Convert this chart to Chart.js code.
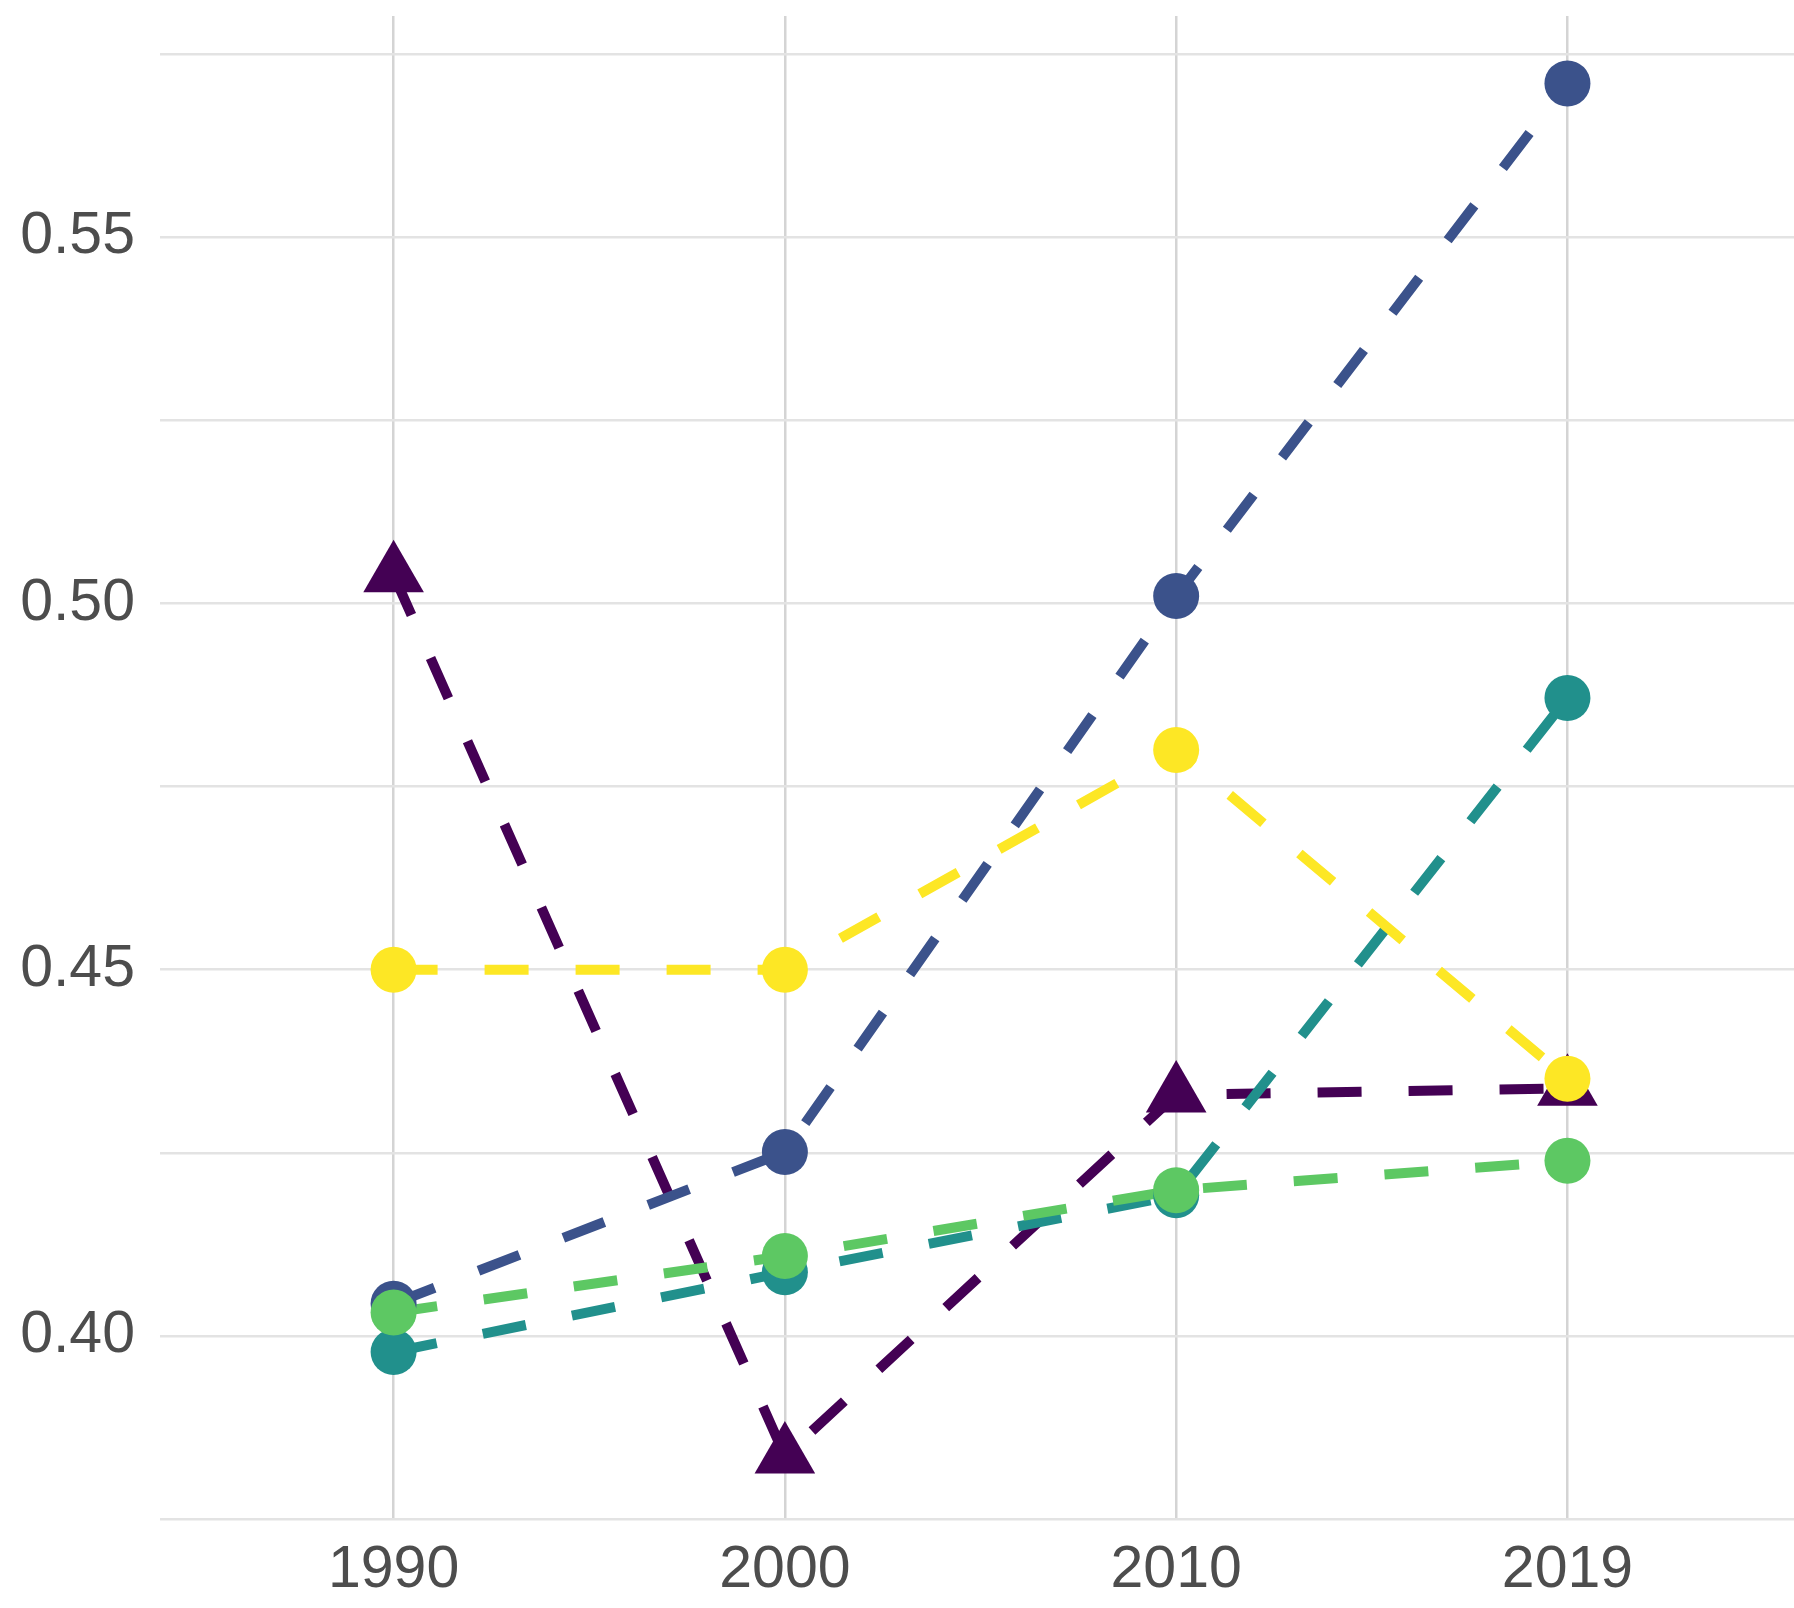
<!DOCTYPE html>
<html>
<head>
<meta charset="utf-8">
<title>Chart</title>
<script src="https://cdn.jsdelivr.net/npm/chart.js@4/dist/chart.umd.min.js"></script>
<style>
  html, body { margin: 0; padding: 0; background: #fff; }
  #chart { display: block; }
</style>
</head>
<body>
<canvas id="chart" width="1794" height="1608"></canvas>
<script>
// x categories (drawn on a linear index scale so the outer padding matches)
const years = ['1990', '2000', '2010', '2019'];

// series values
const purpleVals = [0.5039, 0.3836, 0.4329, 0.4338];
const blueVals   = [0.4044, 0.4251, 0.5010, 0.5710];
const tealVals   = [0.3978, 0.4087, 0.4192, 0.4871];
const greenVals  = [0.4032, 0.4109, 0.4199, 0.4239];
const yellowVals = [0.4500, 0.4500, 0.4800, 0.4351];

// y ticks (grid every 0.025, labels every 0.05)
const yTickValues = [0.375, 0.400, 0.425, 0.450, 0.475, 0.500, 0.525, 0.550, 0.575];
const yTickLabels = ['', '0.40', '', '0.45', '', '0.50', '', '0.55', ''];

const series = [
  { name: 'purple', values: purpleVals, color: '#440154', shape: 'triangle', radius: 35 },
  { name: 'blue',   values: blueVals,   color: '#3b528b', shape: 'circle',   radius: 23 },
  { name: 'teal',   values: tealVals,   color: '#21908c', shape: 'circle',   radius: 23 },
  { name: 'green',  values: greenVals,  color: '#5dc863', shape: 'circle',   radius: 23 },
  { name: 'yellow', values: yellowVals, color: '#fde725', shape: 'circle',   radius: 23 }
];

const toPoints = vals => vals.map((v, i) => ({ x: i, y: v }));

// lines first (all of them), then points on top, like the original layering
const lineSets = series.map((s, i) => ({
  label: s.name + ' line',
  data: toPoints(s.values),
  borderColor: s.color,
  borderWidth: 10,
  borderDash: [44, 47],
  borderCapStyle: 'butt',
  pointRadius: 0,
  tension: 0,
  fill: false,
  order: 20 - i
}));

const pointSets = series.map((s, i) => ({
  label: s.name,
  data: toPoints(s.values),
  showLine: false,
  pointStyle: s.shape,
  pointRadius: s.radius,
  pointBackgroundColor: s.color,
  pointBorderColor: s.color,
  pointBorderWidth: 0,
  order: 10 - i
}));

const tickFont = { family: "'Liberation Sans', Arimo, sans-serif", size: 59 };

new Chart(document.getElementById('chart'), {
  type: 'line',
  data: { datasets: [...lineSets, ...pointSets] },
  options: {
    responsive: false,
    animation: false,
    devicePixelRatio: 1,
    layout: {
      autoPadding: false,
      padding: { top: 16, left: 0, right: 0, bottom: 0 }
    },
    plugins: {
      legend: { display: false },
      tooltip: { enabled: false }
    },
    scales: {
      x: {
        type: 'linear',
        min: -0.597,
        max: 3.579,
        afterBuildTicks: s => { s.ticks = years.map((_, i) => ({ value: i })); },
        afterFit: s => {
          s.height = 89;
          // no extra room for label overflow, the plot runs to the edge
          s.paddingLeft = 0;
          s.paddingRight = 0;
        },
        border: { display: false },
        grid: { color: '#d4d4d4', lineWidth: 2.5, drawTicks: false },
        ticks: {
          padding: 16,
          color: '#4d4d4d',
          font: tickFont,
          maxRotation: 0,
          callback: v => years[v]
        }
      },
      y: {
        min: 0.375,
        max: 0.5802,
        afterBuildTicks: s => { s.ticks = yTickValues.map(v => ({ value: v })); },
        afterFit: s => {
          s.width = 160;
          s.paddingTop = 0;
          s.paddingBottom = 0;
        },
        border: { display: false },
        grid: { color: '#e3e3e3', lineWidth: 2.5, drawTicks: false },
        ticks: {
          padding: 25,
          color: '#4d4d4d',
          font: tickFont,
          callback: (v, i) => yTickLabels[i]
        }
      }
    }
  }
});
</script>
</body>
</html>
